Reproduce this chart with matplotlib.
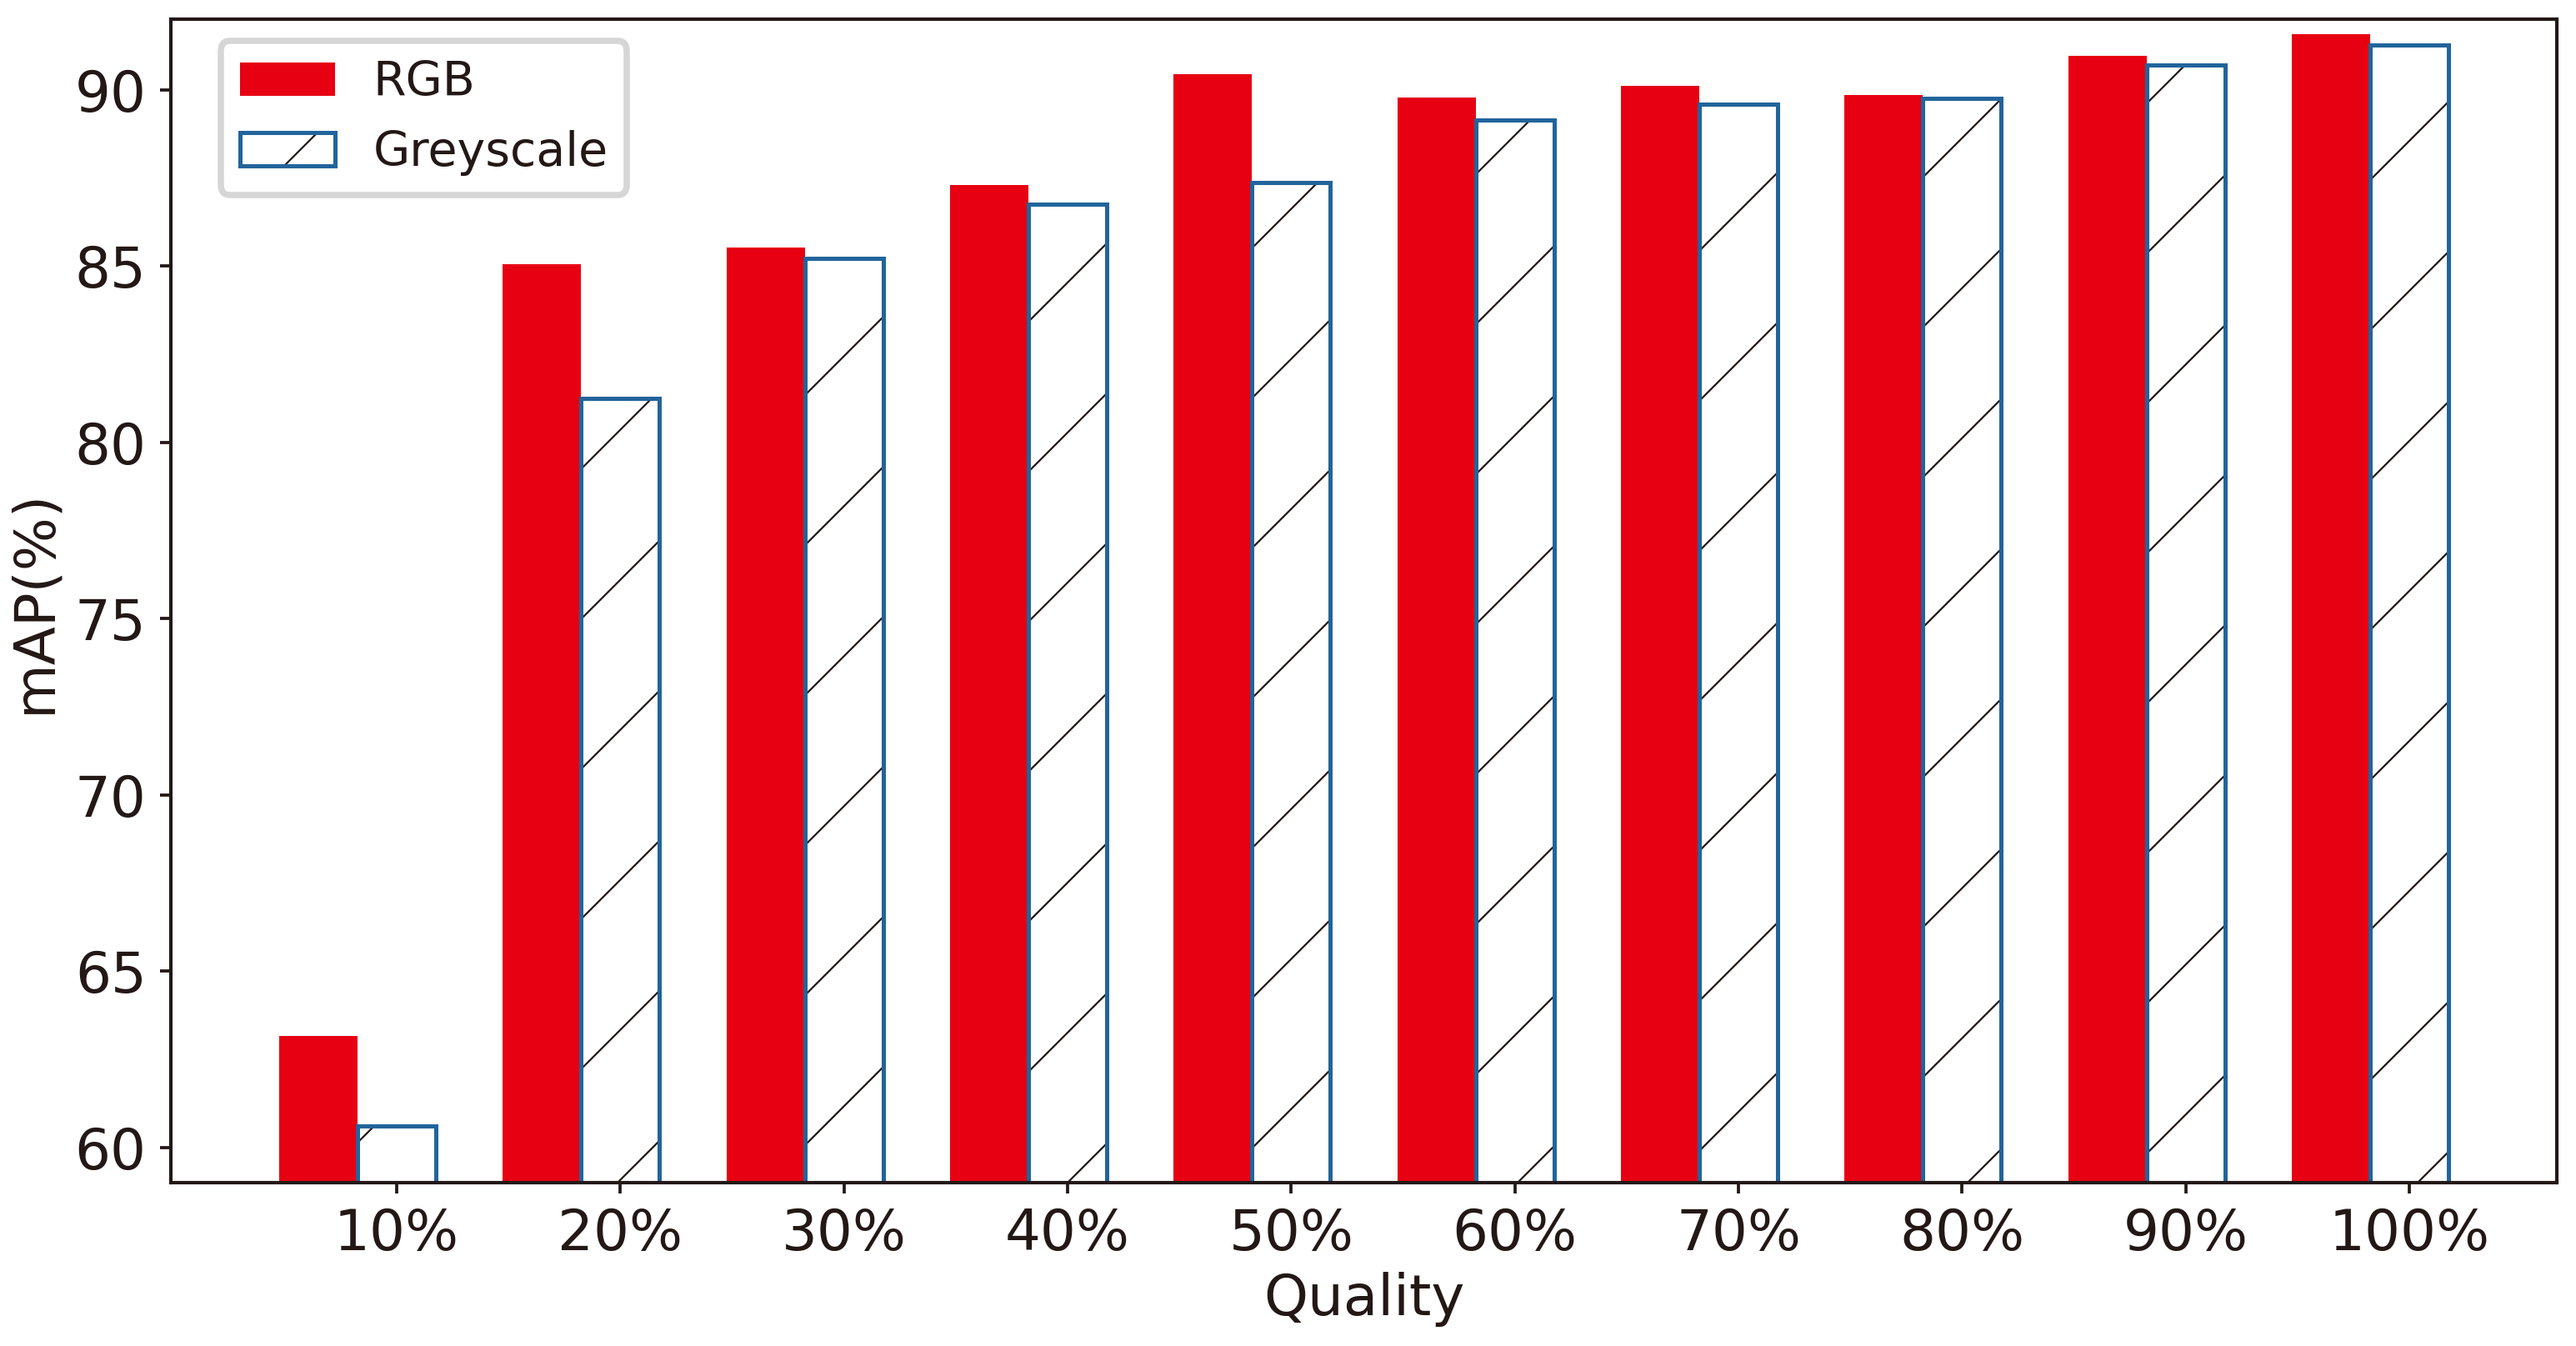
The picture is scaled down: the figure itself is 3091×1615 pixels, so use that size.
import numpy as np
import matplotlib
matplotlib.use("Agg")
import matplotlib.pyplot as plt

qualities = ["10%", "20%", "30%", "40%", "50%", "60%", "70%", "80%", "90%", "100%"]
rgb_map = [63.17, 85.05, 85.53, 87.30, 90.43, 89.77, 90.10, 89.84, 90.96, 91.57]
grey_map = [60.61, 81.24, 85.21, 86.75, 87.36, 89.15, 89.58, 89.76, 90.69, 91.27]

DARK = "#231815"
RED = "#E60012"
BLUE = "#22649B"

plt.rcParams["font.family"] = "DejaVu Sans"
plt.rcParams["hatch.linewidth"] = 0.3
plt.rcParams["text.color"] = DARK
plt.rcParams["axes.labelcolor"] = DARK
plt.rcParams["xtick.color"] = DARK
plt.rcParams["ytick.color"] = DARK


def draw_chart():
    dpi = 540
    fig = plt.figure(figsize=(3091 / dpi, 1615 / dpi), dpi=dpi)
    ax = fig.add_axes([0.0663, 0.1213, 0.9263, 0.8645])

    x = np.arange(len(qualities))
    width = 0.35

    ax.bar(x, rgb_map, width, color=RED, linewidth=0, label="RGB")
    hatch_bars = ax.bar(x + width, grey_map, width, color="white",
                        edgecolor=DARK, hatch="/", linewidth=0)
    outline_bars = ax.bar(x + width, grey_map, width, fill=False,
                          edgecolor=BLUE, linewidth=0.67)

    ax.set_ylim(59, 92)
    ax.set_xticks(x + width)
    ax.set_xticklabels(qualities)
    ax.set_yticks([60, 65, 70, 75, 80, 85, 90])
    ax.tick_params(axis="both", labelsize=9, length=1.7, width=0.5, pad=2.2)

    for side in ax.spines.values():
        side.set_linewidth(0.55)
        side.set_color(DARK)

    ax.set_xlabel("Quality", fontsize=9, labelpad=1.5)
    ax.set_ylabel("mAP(%)", fontsize=9, labelpad=2)

    handles, labels = ax.get_legend_handles_labels()
    handles.append((hatch_bars, outline_bars))
    labels.append("Greyscale")
    ax.legend(handles, labels, loc="upper left", bbox_to_anchor=(0.021, 0.981),
              borderaxespad=0, fontsize=7.6)

    return fig


def main():
    fig = draw_chart()
    fig.savefig("out.png", dpi=540)


if __name__ == "__main__":
    main()
